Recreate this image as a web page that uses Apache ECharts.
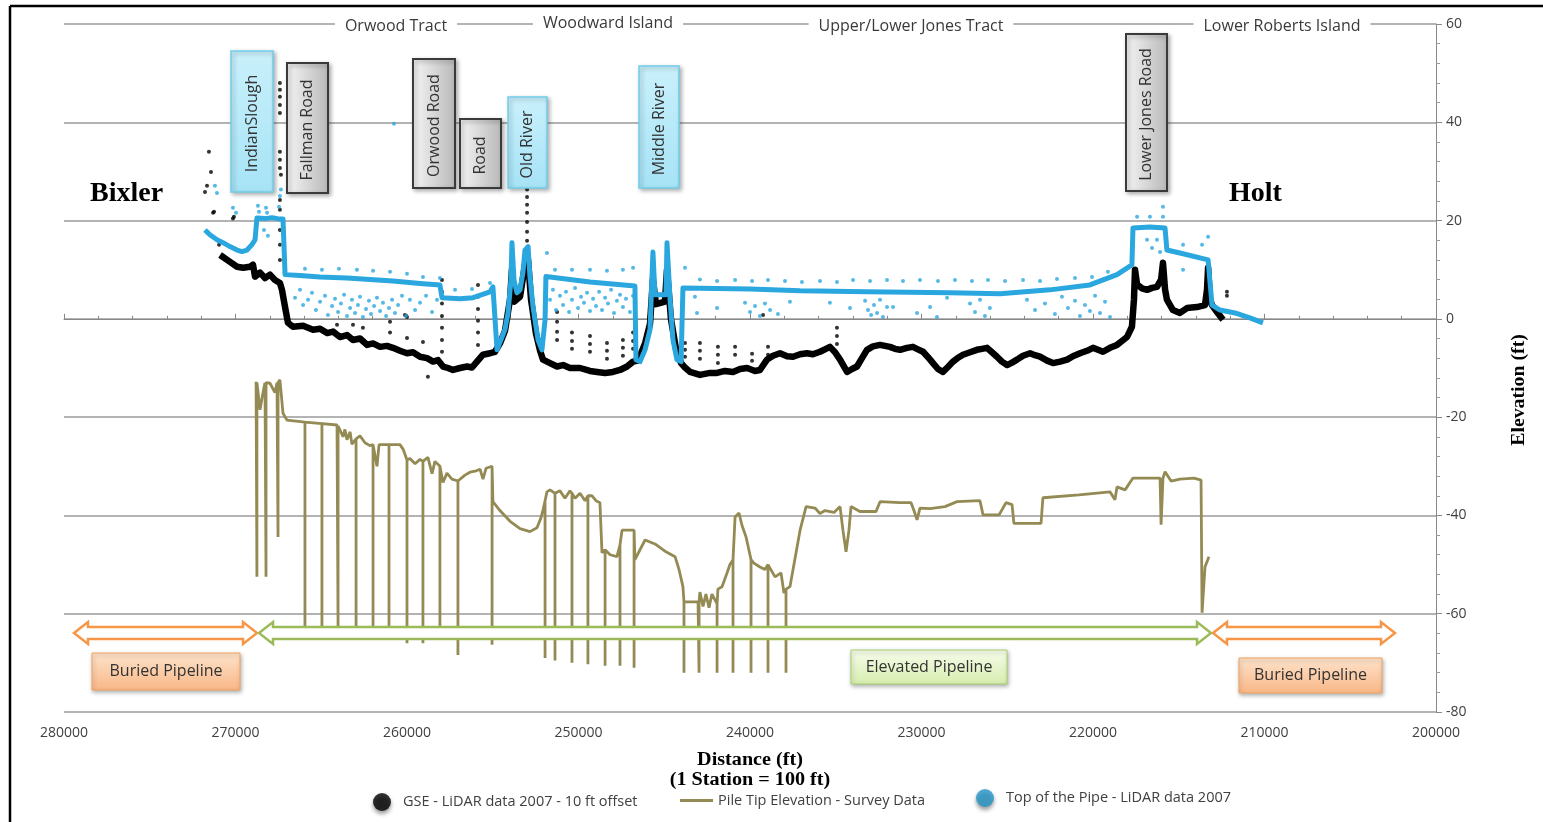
<!DOCTYPE html>
<html><head><meta charset="utf-8">
<script src="https://cdn.jsdelivr.net/npm/echarts@6/dist/echarts.min.js"></script>
<style>html,body{margin:0;padding:0;background:#fff}#c{width:1543px;height:822px}</style>
</head><body><div id="c"></div>
<script>
// ---------------- DATA ----------------
const xTickValues = [200000,210000,220000,230000,240000,250000,260000,270000,280000];
const yTickValues = [-80,-60,-40,-20,0,20,40,60];

const seriesNames = ['GSE - LiDAR data 2007 - 10 ft offset','Pile Tip Elevation - Survey Data','Top of the Pipe - LiDAR data 2007'];
const tractNames = ['Orwood Tract','Woodward Island','Upper/Lower Jones Tract','Lower Roberts Island'];
const crossingNames = ['IndianSlough','Fallman Road','Orwood Road','Road','Old River','Middle River','Lower Jones Road'];
const endNames = ['Bixler','Holt'];
const pipelineNames = ['Buried Pipeline','Elevated Pipeline','Buried Pipeline'];

// Ground surface elevation (main band)
const gseProfile = [
[270900,13.0],[270730,12.6],[270320,11.6],[269910,10.6],[269560,10.4],[269150,10.6],[268980,11.0],[268860,8.6],[268570,9.4],[268280,8.3],[267990,9.0],[267700,7.9],[267410,7.3],[267290,5.9],[267110,2.4],[266940,-0.8],[266650,-1.6],[266060,-1.4],[265480,-2.2],[265070,-2.0],[264660,-2.9],[264310,-2.6],[263910,-3.7],[263500,-3.3],[263150,-4.3],[262740,-4.0],[262330,-5.3],[261980,-5.0],[261570,-5.7],[261170,-5.5],[260820,-5.9],[260410,-6.5],[260000,-7.0],[259650,-6.8],[259240,-7.7],[258830,-8.0],[258480,-8.7],[258190,-8.4],[257900,-9.7],[257610,-10.0],[257320,-10.4],[256910,-10.0],[256500,-9.7],[256210,-9.9],[255920,-8.7],[255570,-7.3],[255160,-7.0],[254870,-6.7],
[254580,-5.0],[254290,-2.5],[253990,4.0],[253880,10.0],[253760,3.5],[253410,4.5],[253120,11.0],[252940,12.0],[252770,4.0],[252480,-3.0],[252240,-6.5],[252070,-8.3],
[251660,-9.0],[251250,-9.7],[250900,-9.4],[250500,-10.0],[249910,-10.0],[249330,-10.6],[248920,-10.8],[248450,-11.0],[247990,-10.8],[247580,-10.4],[247170,-9.7],[246820,-8.7],
[246530,-8.5],[246120,-5.0],[245830,-1.0],[245660,8.0],[245480,3.0],[244960,3.5],[244840,10.0],[244610,0.0],[244320,-6.0],[244020,-9.0],
[243790,-9.9],[243500,-10.8],[242920,-11.4],[242330,-11.0],[241920,-11.0],[241460,-10.6],[240990,-10.8],[240580,-10.2],[240170,-10.0],[239710,-10.6],[239420,-10.4],[239010,-8.3],[238660,-7.5],[238250,-7.0],[237840,-7.6],[237490,-7.7],[237080,-7.2],[236680,-7.0],[236330,-7.2],[235920,-6.7],[235630,-6.2],[235340,-5.7],[235040,-6.8],[234750,-8.3],[234340,-10.8],[234050,-10.2],[233760,-9.7],[233470,-8.0],[233180,-6.3],[232830,-5.6],[232420,-5.3],[232130,-5.5],[231840,-5.7],[231550,-6.1],[231250,-6.3],[230850,-5.9],[230500,-5.7],[230210,-6.2],[229910,-6.7],[229620,-7.8],[229330,-9.0],[229040,-10.2],[228750,-10.8],[228460,-9.8],[228160,-8.7],[227870,-7.9],[227580,-7.3],[227170,-6.8],[226770,-6.3],[226470,-6.1],[226180,-5.9],[225890,-6.8],[225600,-7.7],[225310,-8.7],[225010,-9.4],[224720,-8.9],[224430,-8.3],[224080,-7.5],[223670,-7.0],[223380,-7.4],[223090,-7.7],[222680,-8.5],[222330,-9.0],[221920,-8.7],[221510,-8.3],[221170,-7.6],[220760,-7.0],[220350,-6.5],[220000,-5.9],[219710,-6.3],[219420,-6.7],[219010,-5.9],[218600,-5.3],[218310,-4.5],[218020,-3.7],[217730,-1.6],[217610,4.0],[217550,10.0],[217430,7.0],[217140,6.2],[216850,5.9],[216560,6.3],[216270,6.5],[216030,8.0],[215920,11.4],[215800,6.0],[215690,3.9],[215340,1.8],[214930,1.2],[214520,2.2],[213940,2.4],[213470,2.8],[213350,6.0],[213290,10.4],[213180,4.0],[213060,2.8],[212770,1.4],[212420,-0.2]
];

// Ground surface scattered points
const gseDots = [
[271550,34.0],[271430,29.9],[271660,27.1],[271780,25.8],[271250,21.8],[270090,20.8],[270960,15.1],[271310,21.6],[270150,20.4],
[267410,48.0],[267410,46.6],[267410,45.2],[267410,43.5],[267410,41.9],[267410,34.0],[267410,32.4],[267410,30.7],[267350,29.3],[267410,24.2],[267410,22.2],[267410,18.1],[267410,15.1],[267410,12.0],
[253000,26.3],[253000,24.8],[253000,23.2],[253000,21.6],[253000,19.7],[253000,17.7],[253000,15.9],[253000,14.0],
[257960,7.9],[257960,5.5],[257960,3.1],[257960,0.6],[257960,-1.8],[257960,-4.3],[257960,-6.7],
[255860,6.9],[255860,4.5],[255860,2.0],[255860,-0.4],[255860,-2.8],[255860,-5.3],
[251250,1.4],[251250,-0.6],[251250,-2.6],[251250,-4.3],
[250380,-2.8],[250380,-4.5],[250380,-6.1],
[249330,-3.5],[249330,-5.1],[249330,-6.7],
[248340,-4.9],[248340,-6.5],[248340,-8.1],
[247410,-4.3],[247410,-5.9],[247410,-7.5],
[246820,-2.8],[246820,-4.5],[246820,-6.1],
[243790,-4.9],[243790,-6.3],[243790,-7.7],
[242920,-4.9],[242920,-6.5],[242920,-8.1],
[241870,-5.7],[241870,-7.3],[241870,-9.0],
[240870,-5.7],[240870,-7.3],
[239880,-7.1],[239880,-8.5],
[238950,-5.7],[238950,-7.3],
[234930,-1.8],[234930,-3.5],[234930,-5.1],
[239240,0.8],[212190,5.5],[212190,4.7],
[258780,-11.8],[260000,0.4],[260990,-0.6],
[264080,-1.2],[263150,-1.2],[262570,-1.8],[260990,-2.8],[260000,-3.9],[259070,-4.7],[260120,0.8]
];

// Pile tip elevation (survey)
const pileTip = [
[268800,-12.8],[268750,-13.0],[268750,-52.5],[268750,-13.0],
[268570,-18.5],[268400,-15.1],[268280,-13.0],
[268220,-13.0],[268220,-52.5],[268220,-13.0],
[267990,-13.1],[267700,-15.0],[267580,-13.0],
[267520,-13.0],[267520,-44.4],[267520,-13.0],
[267410,-12.4],[267230,-19.2],[267000,-20.6],
[265950,-21.0],[265950,-62.7],[265950,-21.0],
[264960,-21.3],[264960,-62.7],[264960,-21.3],
[264080,-21.6],
[264020,-21.8],[264020,-62.7],[264020,-21.8],
[263910,-22.6],[263730,-24.0],[263620,-22.5],[263500,-24.6],[263320,-23.0],[263210,-25.5],
[262970,-24.4],[262970,-62.7],[262970,-24.4],
[262740,-23.8],[262450,-25.2],[262160,-25.8],
[261980,-25.6],[261980,-62.7],[261980,-25.6],
[261750,-30.0],[261630,-25.6],
[261050,-25.6],[261050,-62.7],[261050,-25.6],
[260410,-25.6],[260230,-26.5],
[260000,-28.7],[260000,-66.0],[260000,-28.7],
[259830,-28.4],[259530,-29.5],[259240,-28.6],
[259070,-29.0],[259070,-66.0],[259070,-29.0],
[258780,-28.2],[258540,-31.5],[258370,-29.0],
[258080,-30.0],[258080,-62.7],[258080,-30.0],
[257900,-33.3],[257670,-31.4],[257380,-32.6],
[257030,-33.0],[257030,-68.4],[257030,-33.0],
[256620,-31.8],[256330,-31.2],[256030,-31.0],[255740,-30.6],[255570,-32.6],[255390,-30.4],
[255040,-30.0],[255040,-66.3],[255040,-30.0],
[254990,-37.2],[254580,-39.0],[253990,-41.2],[253410,-42.7],[252830,-43.3],[252420,-42.5],[252190,-40.5],[252070,-38.9],
[251950,-37.0],[251950,-69.0],[251950,-37.0],
[251840,-35.2],[251660,-34.8],
[251370,-35.5],[251370,-69.5],[251370,-35.5],
[251080,-35.0],[250790,-36.5],[250500,-35.0],
[250380,-35.5],[250380,-70.0],[250380,-35.5],
[250200,-36.5],[249910,-35.5],[249620,-37.0],
[249450,-36.0],[249450,-70.3],[249450,-36.0],
[249210,-36.0],[248980,-37.0],[248750,-37.4],[248630,-47.6],
[248450,-47.0],[248450,-70.6],[248450,-47.0],
[248160,-48.0],[247760,-48.4],
[247580,-46.0],[247580,-70.6],[247580,-46.0],
[247460,-43.0],[247000,-43.0],
[246760,-43.0],[246760,-71.0],[246760,-43.0],
[246710,-49.0],[246120,-45.0],[245540,-45.8],[244900,-47.4],[244370,-48.4],[244140,-51.0],[243910,-54.5],
[243850,-57.6],[243850,-72.0],[243850,-57.6],
[243030,-57.6],
[242970,-57.6],[242970,-72.0],[242970,-57.6],
[242920,-55.6],[242740,-58.5],[242570,-56.0],[242390,-58.8],[242220,-56.0],
[241920,-58.0],[241920,-72.0],[241920,-58.0],
[241870,-55.0],[241630,-54.5],[241340,-51.7],[241170,-50.0],
[240990,-49.0],[240990,-72.0],[240990,-49.0],
[240870,-40.3],[240640,-39.5],[240470,-42.0],[240230,-44.4],
[239940,-49.0],[239940,-72.0],[239940,-49.0],
[239770,-49.7],[239420,-50.5],[239130,-51.0],
[238950,-50.0],[238950,-72.0],[238950,-50.0],
[238540,-52.5],[238190,-51.7],[238020,-55.8],
[237900,-55.0],[237900,-72.0],[237900,-55.0],
[237670,-54.5],[237320,-47.7],[237080,-43.0],[236730,-38.2],[236210,-38.5],[235920,-39.6],[235630,-39.0],[235100,-39.4],[234750,-38.2],[234580,-43.0],[234400,-47.4],[234230,-43.0],[234110,-38.2],[233590,-39.2],[232650,-39.2],[232420,-37.2],[231250,-37.4],[230610,-37.4],[230440,-39.0],[230260,-40.9],[230090,-38.5],[229500,-38.6],[228630,-38.2],[227930,-37.2],[226590,-37.0],[226410,-39.9],[225480,-39.9],[225070,-37.4],[224720,-37.8],[224610,-41.6],[223030,-41.6],[222920,-36.4],[220820,-35.8],[219010,-35.2],[218720,-36.8],[218600,-34.2],[218130,-34.8],[217670,-32.4],[216090,-32.4],[216030,-41.9],[215920,-32.4],[215800,-31.1],[215450,-33.0],[214930,-32.6],[214110,-32.4],[213700,-32.8],[213640,-59.8],[213470,-50.5],[213240,-48.4]
];

// Top of the pipe (main band)
const pipeProfile = [
[271780,18.1],[271490,17.1],[271080,16.1],[270730,15.5],[270320,14.7],[269910,14.0],[269620,13.7],[269330,14.0],[269040,15.1],[268860,16.1],[268750,20.5],[268280,20.4],[267870,20.6],[267410,20.3],[267230,20.3],[267110,9.0],[266240,8.8],[265070,8.5],[263500,8.3],[262160,8.0],[260820,7.7],[259240,7.2],[258080,6.9],[257960,4.3],[256910,4.1],[256150,4.3],[255160,5.5],[254990,6.5],[254750,-6.3],[254290,-2.2],[254110,1.2],[253940,7.9],[253880,15.5],[253760,7.9],[253590,5.3],[253410,5.9],[253240,9.4],[253120,14.0],[252940,14.7],[252830,8.6],[252650,2.4],[252360,-4.3],[252130,-6.3],[251950,-0.2],[251900,8.6],[251840,8.6],[249330,7.5],[246710,6.7],[246650,-8.3],[246410,-8.7],[246120,-6.3],[245830,-2.2],[245660,13.6],[245540,4.9],[244900,4.9],[244840,15.5],[244660,3.9],[244490,-4.3],[244260,-8.3],[244020,-8.7],[243910,6.3],[240000,6.1],[237080,5.7],[233180,5.5],[228340,5.3],[225420,5.1],[222510,5.9],[220180,6.9],[218600,9.0],[217730,11.0],[217670,18.5],[216680,18.7],[215800,18.5],[215690,14.0],[214930,13.4],[213290,12.0],[213060,2.8],[212590,1.8],[211720,1.2],[210850,0.2],[210090,-0.8]
];

// Top of the pipe scattered points
const pipeDots = [
[271200,27.1],[271080,25.6],[270150,22.6],[269970,21.6],[268690,23.0],[268630,21.8],[268220,22.6],[268160,21.6],[267460,22.8],[267410,25.0],[267350,26.3],[268340,18.1],[268110,16.9],
[260760,39.7],
[265950,10.2],[264960,10.0],[263970,10.2],[262920,10.0],[261980,9.8],[260990,9.6],[260000,9.2],[259070,8.5],[258080,8.3],[257200,5.9],[256210,6.1],[255160,7.3],
[266530,4.3],[266240,5.9],[266060,2.8],[265770,3.9],[265540,5.3],[265310,1.8],[265070,3.5],[264780,4.7],[264610,0.8],[264370,2.6],[264200,4.1],[264020,1.4],[263850,3.1],[263670,4.9],[263500,0.6],[263320,2.2],[263210,3.9],[263030,1.2],[262860,2.8],[262740,4.5],[262570,0.4],[262390,2.0],[262220,3.7],[262100,1.0],[261920,2.6],[261750,4.3],[261570,1.6],[261400,3.3],[261220,0.6],[261050,2.2],[260870,3.9],[260700,1.2],[260520,2.8],[260290,4.7],[260060,0.6],[259830,3.9],[259530,1.8],[259240,3.3],[258890,4.7],[258540,1.4],[258250,3.9],
[251660,3.9],[251490,5.9],[251310,1.8],[251080,4.7],[250900,2.8],[250730,5.5],[250550,1.4],[250380,3.9],[250200,6.3],[250030,2.2],[249850,4.5],[249680,3.3],[249500,5.3],[249330,1.6],[249150,4.1],[248980,2.6],[248800,5.5],[248630,1.8],[248450,4.3],[248280,3.1],[248100,5.9],[247930,1.2],[247760,3.7],[247580,4.9],[247410,2.4],[247230,4.1],[247000,1.4],[246820,4.7],
[251370,10.0],[250380,10.0],[249330,10.0],[248340,9.8],[247410,10.0],[246820,10.4],[251840,13.4],
[243790,10.4],[242920,8.0],[241920,7.7],[240870,7.9],[239880,7.7],[238950,7.9],[237960,7.7],[236970,7.5],[235920,7.7],[234930,7.5],[233990,7.9],[233000,7.7],[232010,7.9],[231080,7.7],[230090,7.9],[229040,7.7],[228050,7.9],[227060,7.7],[226120,7.9],[225130,7.7],[224080,7.9],[223090,7.7],[222100,8.1],[221050,8.3],[220060,8.5],[219130,9.6],
[243210,4.5],[243090,1.2],[241920,2.2],[240290,3.3],[240000,1.4],[239710,2.6],[239420,0.6],[239130,3.1],[238830,1.8],[238370,1.0],[237670,3.5],[235340,3.3],[234170,2.2],[233290,3.7],[233120,1.8],[232940,0.8],[232770,2.8],[232590,1.2],[232420,3.9],[232250,0.4],[232010,2.4],[231660,2.4],[230260,1.2],[229500,2.4],[229100,0.4],[228510,4.3],[227170,3.1],[226880,1.4],[226590,3.9],[226300,0.6],[226010,2.2],[223850,3.9],[223380,1.8],[222800,3.1],[222220,1.0],[221810,4.5],[221460,2.2],[221050,3.7],[220760,0.6],[220470,2.8],[220180,1.6],[219880,4.7],[219590,1.2],[219300,3.5],[219010,0.4],
[217430,20.8],[216680,20.8],[215920,20.8],[215920,22.8],[216850,16.1],[216560,14.4],[216270,16.1],[216090,13.6],[214750,15.1],[213640,15.1],[213290,16.7],[214750,10.0]
];

// ---------------- CHART ----------------
const BLUE = '#2aa7df', OLIVE = '#948a54', TXT = '#3a3a3a';
const SANS = '"Open Sans", "Liberation Sans", sans-serif';
const SERIF = '"Liberation Serif", "DejaVu Serif", serif';

const chart = echarts.init(document.getElementById('c'));

function centered(extra) {
  return Object.assign({x:0, y:0, align:'center', verticalAlign:'middle', textAlign:'center', textVerticalAlign:'middle'}, extra);
}
const boxFill = {
  blue: {type:'linear', x:0, y:0, x2:0, y2:1, colorStops:[{offset:0,color:'#c9f0fb'},{offset:1,color:'#a6e3f6'}]},
  gray: {type:'linear', x:0, y:0, x2:1, y2:0, colorStops:[{offset:0,color:'#f6f6f6'},{offset:1,color:'#b8b8b8'}]}
};
const boxStroke = {blue:'#72cde9', gray:'#3a3a3a'};
// layout of crossing labels (pixel boxes)
const crossingLayout = [
  [231, 51, 42, 141, 'blue'],
  [287, 63, 41, 130, 'gray'],
  [413, 59, 42, 129, 'gray'],
  [460, 119, 41, 69, 'gray'],
  [508, 97, 39, 91, 'blue'],
  [639, 66, 40, 122, 'blue'],
  [1126, 34, 41, 157, 'gray']
];
const graphics = [];
// frame
graphics.push({type:'line', shape:{x1:10,y1:6,x2:1543,y2:6}, style:{stroke:'#000', lineWidth:2.5}, z:70});
graphics.push({type:'line', shape:{x1:10,y1:6,x2:10,y2:822}, style:{stroke:'#000', lineWidth:2.5}, z:70});
// tract labels on the top grid line
const tractPos = [[396,26],[608,23],[911,26],[1282,26]];
tractNames.forEach((t,i)=>{
  graphics.push({type:'text', x:tractPos[i][0], y:tractPos[i][1], z:60,
    style:centered({text:t, font:'16px ' + SANS, fill:TXT, backgroundColor:'#fff', padding:[3,10]})});
});
// crossing boxes
crossingNames.forEach((n,i)=>{
  const [x,y,w,h,k] = crossingLayout[i];
  graphics.push({type:'rect', shape:{x:x,y:y,width:w,height:h}, z:60,
    style:{fill:boxFill[k], stroke:boxStroke[k], lineWidth:k==='gray'?2:1.5, shadowBlur:4, shadowOffsetX:2, shadowOffsetY:2, shadowColor:'rgba(0,0,0,0.3)'}});
  graphics.push({type:'text', x:x + w/2, y:y + h/2 + 2, rotation:Math.PI/2, z:61,
    style:centered({text:n, font:'16px ' + SANS, fill:'#333'})});
});
// end labels
[[90,194],[1229,194]].forEach((p,i)=>{
  graphics.push({type:'text', x:p[0], y:p[1], z:60, style:{text:endNames[i], x:0, y:0, font:'bold 28px ' + SERIF, fill:'#000', align:'left', verticalAlign:'middle', textAlign:'left', textVerticalAlign:'middle'}});
});
// pipeline arrows
function dblArrow(x0, x1, color) {
  const yc = 633, hs = 6, hh = 11, hl = 14;
  return {type:'polygon', z:55, shape:{points:[[x0,yc],[x0+hl,yc-hh],[x0+hl,yc-hs],[x1-hl,yc-hs],[x1-hl,yc-hh],[x1,yc],[x1-hl,yc+hh],[x1-hl,yc+hs],[x0+hl,yc+hs],[x0+hl,yc+hh]]},
    style:{fill:'#fff', stroke:color, lineWidth:2.5, lineJoin:'miter'}};
}
graphics.push(dblArrow(74, 257, '#f79646'));
graphics.push(dblArrow(259, 1211, '#9bbb59'));
graphics.push(dblArrow(1213, 1395, '#f79646'));
const orangeFill = {type:'linear', x:0,y:0,x2:0,y2:1, colorStops:[{offset:0,color:'#fde3cb'},{offset:1,color:'#f9b787'}]};
const greenFill = {type:'linear', x:0,y:0,x2:0,y2:1, colorStops:[{offset:0,color:'#f7fcec'},{offset:1,color:'#d6edae'}]};
const pipeBoxLayout = [[92,653,148,37,orangeFill,'#f2a35e'],[851,650,156,34,greenFill,'#a9d16f'],[1239,658,143,35,orangeFill,'#f2a35e']];
pipelineNames.forEach((n,i)=>{
  const [x,y,w,h,f,s] = pipeBoxLayout[i];
  graphics.push({type:'rect', z:56, shape:{x:x,y:y,width:w,height:h}, style:{fill:f, stroke:s, lineWidth:1, shadowBlur:4, shadowOffsetX:1, shadowOffsetY:2, shadowColor:'rgba(0,0,0,0.3)'}});
  graphics.push({type:'text', z:57, x:x+w/2, y:y+h/2, style:centered({text:n, font:'16px ' + SANS, fill:'#333'})});
});
// axis titles
graphics.push({type:'text', x:750, y:760, scaleX:1.12, z:60, style:centered({text:'Distance (ft)', font:'bold 18px ' + SERIF, fill:'#000'})});
graphics.push({type:'text', x:750, y:780, scaleX:1.12, z:60, style:centered({text:'(1 Station = 100 ft)', font:'bold 18px ' + SERIF, fill:'#000'})});
graphics.push({type:'text', x:1519, y:390, rotation:Math.PI/2, scaleX:1.1, z:60, style:centered({text:'Elevation (ft)', font:'bold 18px ' + SERIF, fill:'#000'})});

const legendText = {fontSize:14.5, color:'#404040', fontFamily:SANS, padding:[0,0,0,7]};
const shadow = {shadowBlur:4, shadowColor:'rgba(0,0,0,0.5)', shadowOffsetY:3};

chart.setOption({
  animation:false,
  backgroundColor:'#fff',
  grid:{left:64, right:107, top:24, bottom:110, containLabel:false},
  xAxis:{type:'value', inverse:true, min:xTickValues[0], max:xTickValues[xTickValues.length-1], interval:xTickValues[1]-xTickValues[0],
    axisLine:{show:true, lineStyle:{color:'#888', width:1}},
    axisTick:{show:true, inside:true, length:5, lineStyle:{color:'#888'}},
    minorTick:{show:true, splitNumber:5, length:3, lineStyle:{color:'#888'}},
    axisLabel:{color:'#404040', fontSize:14, fontFamily:SANS, margin:14, formatter:v=>String(v)},
    splitLine:{show:false}},
  yAxis:{type:'value', position:'right', min:yTickValues[0], max:yTickValues[yTickValues.length-1], interval:yTickValues[1]-yTickValues[0],
    axisLine:{show:true, onZero:false, lineStyle:{color:'#888', width:1}},
    axisTick:{show:true, length:6, lineStyle:{color:'#888'}},
    minorTick:{show:true, splitNumber:5, length:4, lineStyle:{color:'#999'}},
    axisLabel:{color:'#404040', fontSize:14, fontFamily:SANS, margin:10, formatter:v=>String(v)},
    splitLine:{show:true, lineStyle:{color:'#9a9a9a', width:1.5}}},
  legend:[
    {left:368, top:788, itemWidth:18, itemHeight:18, selectedMode:false, textStyle:legendText,
      data:[{name:seriesNames[0], icon:'circle', itemStyle:Object.assign({color:'#000'}, shadow)}]},
    {left:675, top:788, itemWidth:33, itemHeight:3, selectedMode:false, textStyle:Object.assign({}, legendText, {padding:[0,0,0,0]}),
      data:[{name:seriesNames[1], icon:'rect', itemStyle:{color:OLIVE}}]},
    {left:971, top:784, itemWidth:18, itemHeight:18, selectedMode:false, textStyle:legendText,
      data:[{name:seriesNames[2], icon:'circle', itemStyle:Object.assign({color:'#2596c8'}, shadow)}]}
  ],
  graphic:{elements:graphics},
  series:[
    {type:'scatter', name:seriesNames[0], data:gseDots, symbolSize:4, itemStyle:{color:'#000'}, z:2},
    {type:'line', name:seriesNames[0], data:gseProfile, symbol:'none', showSymbol:false, lineStyle:{color:'#000', width:6.5, join:'round'}, itemStyle:{color:'#000'}, z:2},
    {type:'line', name:seriesNames[1], data:pileTip, symbol:'none', showSymbol:false, lineStyle:{color:OLIVE, width:2.8}, itemStyle:{color:OLIVE}, z:3},
    {type:'scatter', name:seriesNames[2], data:pipeDots, symbolSize:4, itemStyle:{color:BLUE}, z:4},
    {type:'line', name:seriesNames[2], data:pipeProfile, symbol:'none', showSymbol:false, lineStyle:{color:BLUE, width:5, join:'round'}, itemStyle:{color:BLUE}, z:4}
  ]
});
</script>
</body></html>
